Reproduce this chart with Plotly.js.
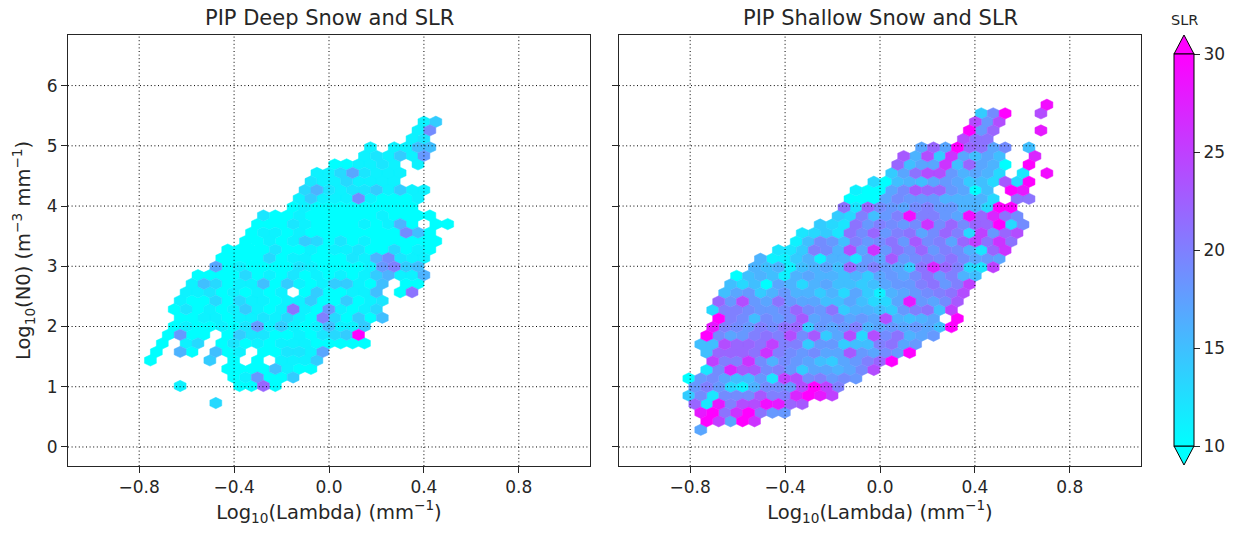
<!DOCTYPE html>
<html><head><meta charset="utf-8">
<script src="https://cdn.plot.ly/plotly-3.0.1.min.js"></script>
<style>html,body{margin:0;padding:0;background:#fff}</style></head>
<body><div id="c" style="width:1244px;height:541px"></div>
<script>
// Hexbin cells, row by row (top row first). Each row: half-column of first cell, then SLR per cell (null = empty bin).
const deepStart=[-2,-3,-4,-11,-12,-17,-20,-21,-22,-23,-24,-29,-30,-31,-32,-35,-36,-37,-40,-41,-42,-43,-44,-43,-44,-45,-46,-47,-48,-35,-34,-43,0,-37];
const deepSLR=[
[11,14],[11,19],[11,12],[11,null,11,11,15,15],[11,12,11,14,11,18],
[10,10,11,11,12,11,null,11],[11,11,13,17,12,11,11,11],[12,11,11,13,11,11,11,11],
[13,16,12,11,12,12,14,11,14,11,11],[11,14,11,11,11,19,11,10,10,10,11],
[10,11,10,10,10,10,10,10,10,10,10],[12,10,10,11,10,10,10,10,10,10,11,10,10,10,10],
[10,10,10,12,11,10,10,10,10,11,10,11,16,10,null,10,10],
[10,11,11,10,11,10,10,10,10,10,10,10,10,19,15,10],
[10,10,11,10,11,14,13,10,12,10,11,10,10,10,10,10,10],
[10,10,10,10,12,10,10,11,10,11,11,12,10,10,13,10,11,10],
[10,10,10,10,13,10,11,11,10,10,10,12,11,16,19,12,11,11],
[17,10,11,10,10,10,10,12,11,10,10,10,10,11,18,20,14,15],
[10,10,10,10,13,10,11,10,12,10,11,10,11,10,11,14,16,11,11,16],
[11,15,13,10,11,11,15,10,14,11,10,11,14,14,11,10,15,null,10,10],
[11,11,12,10,11,10,11,10,11,null,10,14,10,10,11,11,15,null,10,21],
[11,10,10,13,10,13,11,11,10,11,11,14,10,10,14,10,11,12],
[10,12,10,11,10,11,14,11,10,11,21,11,10,18,11,10,11,13],
[10,10,11,11,10,11,11,12,11,13,11,10,20,13,10,14,10,15],
[10,11,10,10,11,10,12,18,11,14,11,10,11,15,11,11,14],
[10,18,10,10,null,10,14,12,12,10,10,11,10,12,13,14,30],
[10,null,11,13,null,10,12,10,11,10,11,11,11,10,10,10,10,10],
[10,null,16,10,null,15,10,11,null,10,10,12,12,11,17],
[10,null,null,null,null,14,null,10,null,10,null,11,11,11,14],
[10,10,10,10,15,11,10,10],[10,11,18,10,10,14],[11,null,null,null,null,10,10,22,10],[],[13]];
const shallowStart=[0,-11,-12,-13,-14,-21,-24,-25,-26,-29,-32,-33,-34,-35,-38,-41,-42,-45,-48,-49,-52,-53,-54,-55,-56,-55,-56,-57,-58,-57,-56,-57,-60,-59,-60,-59,-58,-57,-58];
const shallowSLR=[
[29],[14,19,30,null,null,24],[24,18,24],[30,18,22,null,null,null,28],[24,21,21],
[17,22,17,30,22,21,17,19,null,15],
[23,16,24,14,26,17,15,17,15,null,null,27],
[22,15,17,17,26,15,22,17,16,10,null,30],
[14,17,21,24,24,18,16,17,16,13,null,12,null,29],
[13,10,15,16,15,17,18,17,14,15,13,23,13,30],
[11,10,10,17,19,23,22,22,18,17,10,15,null,30,28],
[10,10,10,17,19,18,18,18,16,16,16,16,13,null,21,21],
[21,12,22,19,18,17,19,20,18,18,16,16,13,30,30],
[14,13,20,15,18,20,29,20,20,18,17,29,22,27,21,19],
[14,13,12,21,18,20,19,18,19,26,19,22,19,22,22,30,13,19],
[12,13,14,12,21,19,22,18,20,21,17,19,22,20,13,25,18,22,24],
[11,15,19,18,15,20,18,19,21,18,23,19,20,17,22,25,21,26,21],
[12,12,14,20,19,16,24,17,26,18,21,19,22,18,20,19,16,12,22,26],
[16,11,11,14,16,11,16,16,12,18,17,23,18,19,20,19,21,19,17,18,17],
[16,15,16,11,15,16,17,15,22,18,20,18,17,14,21,27,22,20,13,12,25],
[10,15,16,15,11,16,17,16,16,15,16,14,17,18,17,19,21,18,20,16,15],
[15,13,15,10,17,16,13,16,17,15,15,14,15,17,18,18,20,21,18,20,25],
[15,17,18,14,16,18,16,16,14,16,13,17,14,11,16,17,18,19,20,21,24],
[22,18,24,18,17,21,18,17,17,15,15,17,15,13,13,17,28,18,17,19,23],
[13,20,20,19,18,18,19,22,19,18,21,14,16,16,15,14,18,20,21,15,25],
[30,20,19,15,19,18,19,23,17,18,19,17,18,17,24,16,15,16,17,null,30],
[28,20,19,18,20,19,21,22,14,18,17,18,20,16,17,18,17,18,17,15,30],
[30,19,17,18,20,21,20,24,19,23,14,17,24,13,24,19,21,16,17,18],
[15,15,24,22,22,21,25,20,20,14,18,18,14,15,15,20,21,17,18],
[15,22,22,22,21,26,20,19,18,19,17,17,23,18,17,19,18,30],
[25,20,20,26,19,16,19,18,17,15,14,17,18,20,22,30],
[12,19,27,23,23,19,20,18,14,17,17,16,17,19,24],
[10,18,19,17,15,15,18,12,25,24,19,20,18,19,18],
[18,20,18,13,11,16,19,19,18,24,30,25,20],
[14,19,12,19,19,19,23,20,20,27,30,28,25],
[22,12,28,20,24,24,29,28,22,23],
[28,30,21,26,30,21,18,18],
[30,25,17,30,26],[17]];
const xTicks=[-0.8,-0.4,0,0.4,0.8];
const xTickText=['−0.8','−0.4','0.0','0.4','0.8'];
const yTicks=[0,1,2,3,4,5,6];
const cbTicks=[10,15,20,25,30];

const W=1244,H=541,FONT='"DejaVu Sans", sans-serif',INK='#262626';
const vMin=10,vMax=30;
function cool(v){const t=Math.max(0,Math.min(1,(v-vMin)/(vMax-vMin)));
  return 'rgb('+Math.round(255*t)+','+Math.round(255*(1-t))+',255)';}
function hexTraces(starts,rows,x0,hx,y0,sy,xa,ya){
  const groups={};
  const w=hx, r=2*sy/3;
  rows.forEach((row,k)=>{row.forEach((v,i)=>{
    if(v===null)return;
    const x=x0+hx*(starts[k]+2*i), y=y0-sy*k;
    const g=groups[v]||(groups[v]={x:[],y:[]});
    g.x.push(x,x+w,x+w,x,x-w,x-w,x,null);
    g.y.push(y+r,y+r/2,y-r/2,y-r,y-r/2,y+r/2,y+r,null);
  });});
  return Object.keys(groups).map(v=>({type:'scatter',mode:'lines',x:groups[v].x,y:groups[v].y,xaxis:xa,yaxis:ya,
    fill:'toself',fillcolor:cool(+v),line:{color:cool(+v),width:0.5},hoverinfo:'skip',showlegend:false}));
}
const traces=[].concat(
  hexTraces(deepStart,deepSLR,0.4502,0.02506,5.399,0.1415,'x','y'),
  hexTraces(shallowStart,shallowSLR,0.7034,0.02515,5.681,0.1420,'x2','y2')
);
// colour bar carrier
traces.push({type:'scatter',mode:'markers',x:[0,0],y:[-5,-5],xaxis:'x',yaxis:'y',showlegend:false,hoverinfo:'skip',
  marker:{size:1,opacity:0,color:[vMin,vMax],cmin:vMin,cmax:vMax,
    colorscale:[[0,cool(vMin)],[1,cool(vMax)]],
    colorbar:{thicknessmode:'pixels',thickness:20,lenmode:'pixels',len:392,x:1174/W,xanchor:'left',xpad:0,
      y:(H-446)/H,yanchor:'bottom',ypad:0,outlinecolor:'#000',outlinewidth:1,
      tickmode:'array',tickvals:cbTicks,ticks:'outside',ticklen:6,tickcolor:INK,tickwidth:1,
      tickfont:{family:FONT,size:17,color:INK}}}});

const px=(a,b)=>[a/W,b/W], py=(top,bot)=>[1-bot/H,1-top/H];
const xRange=[-1.1,1.1], yRange=[-0.316,6.84];
function xax(dom,anchor){return {domain:dom,range:xRange,anchor:anchor,tickmode:'array',tickvals:xTicks,ticktext:xTickText,
  ticks:'outside',ticklen:6,tickwidth:1,tickcolor:INK,showline:true,mirror:true,linecolor:INK,linewidth:1,showgrid:false,zeroline:false,
  tickfont:{family:FONT,size:17,color:INK},
  title:{text:'Log<sub>10</sub>(Lambda) (mm<sup>−1</sup>)',font:{family:FONT,size:19.5,color:INK},standoff:8}};}
function yax(dom,anchor,labels){return {domain:dom,range:yRange,anchor:anchor,tickmode:'array',tickvals:yTicks,
  ticks:'outside',ticklen:6,tickwidth:1,tickcolor:INK,showline:true,mirror:true,linecolor:INK,linewidth:1,showgrid:false,zeroline:false,
  showticklabels:labels,tickfont:{family:FONT,size:17,color:INK},
  title:labels?{text:'Log<sub>10</sub>(N0) (m<sup>−3</sup> mm<sup>−1</sup>)',font:{family:FONT,size:19.5,color:INK},standoff:10}:undefined};}
const grid={color:'#000',width:1,dash:'1px,2.6px'};
const shapes=[];
[['x','y'],['x2','y2']].forEach(([xa,ya])=>{
  const ydom=ya==='y'?'y domain':'y2 domain', xdom=xa==='x'?'x domain':'x2 domain';
  xTicks.forEach(v=>shapes.push({type:'line',layer:'above',xref:xa,yref:ydom,x0:v,x1:v,y0:0,y1:1,line:grid}));
  yTicks.forEach(v=>shapes.push({type:'line',layer:'above',xref:xdom,yref:ya,x0:0,x1:1,y0:v,y1:v,line:grid}));
});
function tri(a,b,c,fill){const P=p=>(p[0]/W)+','+(1-p[1]/H);
  return {type:'path',layer:'above',xref:'paper',yref:'paper',path:'M'+P(a)+' L'+P(b)+' L'+P(c)+' Z',fillcolor:fill,line:{color:'#000',width:1}};}
shapes.push(tri([1174,54],[1184,35],[1194,54],cool(vMax)));
shapes.push(tri([1174,446],[1184,465],[1194,446],cool(vMin)));

const layout={width:W,height:H,autosize:false,paper_bgcolor:'#fff',plot_bgcolor:'#fff',
  margin:{l:0,r:0,t:0,b:0,pad:0,autoexpand:false},showlegend:false,
  xaxis:xax(px(68,590),'y'),yaxis:yax(py(35,466),'x',true),
  xaxis2:xax(px(619,1141),'y2'),yaxis2:yax(py(35,466),'x2',false),
  shapes:shapes,
  annotations:[
   {text:'PIP Deep Snow and SLR',xref:'paper',yref:'paper',x:329/W,y:1-18/H,xanchor:'center',yanchor:'middle',showarrow:false,font:{family:FONT,size:21,color:INK}},
   {text:'PIP Shallow Snow and SLR',xref:'paper',yref:'paper',x:880/W,y:1-18/H,xanchor:'center',yanchor:'middle',showarrow:false,font:{family:FONT,size:21,color:INK}},
   {text:'SLR',xref:'paper',yref:'paper',x:1184/W,y:1-20/H,xanchor:'center',yanchor:'middle',showarrow:false,font:{family:FONT,size:14.5,color:INK}}
  ]};
Plotly.newPlot('c',traces,layout,{displayModeBar:false,staticPlot:true});
</script></body></html>
